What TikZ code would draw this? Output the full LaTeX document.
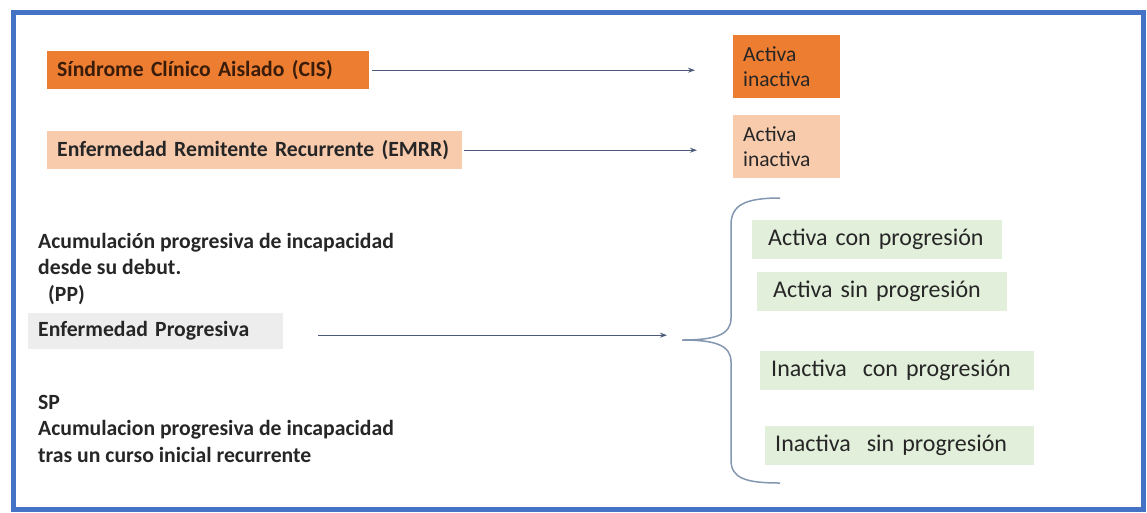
\documentclass[tikz,border=0pt]{standalone}
\usepackage{fontspec}
\setmainfont{Carlito}
\usetikzlibrary{positioning,calc,arrows.meta}
\definecolor{framecol}{HTML}{4472C4}
\definecolor{orangecol}{HTML}{ED7D31}
\definecolor{peachcol}{HTML}{F8CBAD}
\definecolor{greycol}{HTML}{EDEDED}
\definecolor{greencol}{HTML}{E2EFDA}
\definecolor{arrowcol}{HTML}{4A5A78}
\definecolor{bracecol}{HTML}{8497B0}
\definecolor{inkcol}{HTML}{262626}
\definecolor{browncol}{HTML}{3A1C0A}
\begin{document}
\begin{tikzpicture}[x=1pt,y=-1pt,
    label/.style={anchor=north west, inner ysep=0pt, align=left, font=\fontsize{21.7}{26.3}\selectfont\bfseries, text=inkcol},
    typebox/.style={label, inner xsep=10pt, minimum height=38pt},
    statebox/.style={anchor=north west, inner xsep=10pt, inner ysep=0pt, align=left, minimum width=107pt, minimum height=63pt, text width=87pt, font=\fontsize{21.5}{25}\selectfont, text=inkcol},
    greenbox/.style={anchor=north west, fill=greencol, inner ysep=0pt, align=left, minimum height=39pt, font=\fontsize{24}{28}\selectfont, text=inkcol},
    conn/.style={->, >={Stealth[length=7pt,width=5pt]}, draw=arrowcol, line width=1.1pt}]
        \useasboundingbox (0,0) rectangle (1147,512);
        \draw[framecol, line width=5pt] (13,12) rectangle (1143,509);

        % Nodes
        \node [typebox, fill=orangecol, text=browncol, minimum width=322pt, text width=302pt] (cis) at (47,51) {Síndrome Clínico Aislado (CIS)};
        \node [statebox, fill=orangecol] (act1) at (733,35) {Activa\\inactiva};

        \node [typebox, fill=peachcol, minimum width=415pt, text width=395pt] (emrr) at (47,131) {Enfermedad Remitente Recurrente (EMRR)};
        \node [statebox, fill=peachcol] (act2) at (733,115) {Activa\\inactiva};

        \node [label, inner xsep=0pt] (pp) at (38,233) {Acumulación progresiva de incapacidad\\desde su debut.\\\hspace{10pt}(PP)};
        \node [typebox, fill=greycol, minimum width=255pt, text width=235pt, minimum height=36pt] (ep) at (28,313) {Enfermedad Progresiva};
        \node [label, inner xsep=0pt] (sp) at (38,395) {SP\\Acumulacion progresiva de incapacidad\\tras un curso inicial recurrente};

        \node [greenbox, inner xsep=16pt, minimum width=250pt, text width=218pt] (g1) at (752,220) {Activa con progresión};
        \node [greenbox, inner xsep=16pt, minimum width=250pt, text width=218pt] (g2) at (757,272) {Activa sin progresión};
        \node [greenbox, inner xsep=11pt, minimum width=274pt, text width=252pt] (g3) at (760,351) {Inactiva\ \ con progresión};
        \node [greenbox, inner xsep=10pt, minimum width=269pt, text width=249pt] (g4) at (765,426) {Inactiva\ \ sin progresión};

        \coordinate (tip) at (682,340);

        % Brace
        \draw[bracecol, line width=1.5pt] (780,198) .. controls (745,198) and (731,205) .. (731,225) -- (731,318)
            .. controls (731,335) and (715,340) .. (tip) .. controls (715,340) and (731,345) .. (731,362) -- (731,460)
            .. controls (731,478) and (745,483) .. (780,483);

        % Arrows
        \draw[conn, shorten >=38pt] ([xshift=3pt]cis.east) -- (cis.east -| act1.west);
        \draw[conn, shorten >=36pt] ([xshift=2pt]emrr.east) -- (emrr.east -| act2.west);
        \draw[conn, shorten >=15pt] ([xshift=35pt,yshift=-4pt]ep.east) -- ([yshift=-4pt]ep.east -| tip);
\end{tikzpicture}
\end{document}
